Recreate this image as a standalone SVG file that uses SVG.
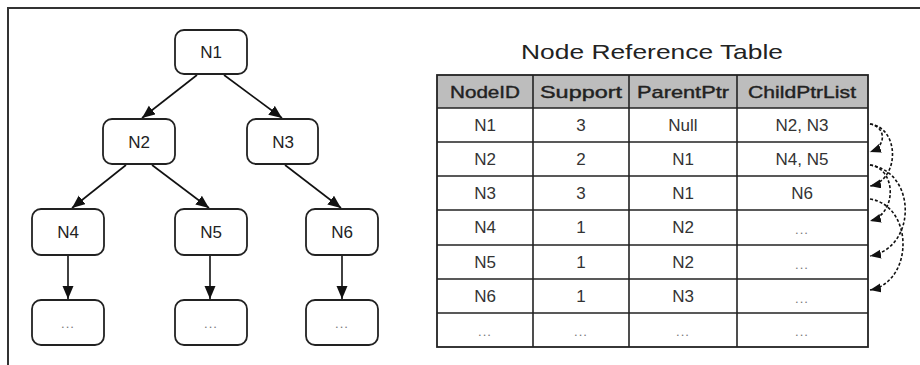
<svg xmlns="http://www.w3.org/2000/svg" width="920" height="365" viewBox="0 0 920 365">
<defs>
<style>
.frame{stroke:#333;stroke-width:2;fill:none}
.node rect{fill:#fff;stroke:#222;stroke-width:1.8}
.lbl{font-family:"Liberation Sans",Arial,sans-serif;font-size:17px;fill:#222;text-anchor:middle}
.dots{font-family:"Liberation Sans",Arial,sans-serif;font-size:13px;fill:#777;text-anchor:middle;letter-spacing:1px}
.edge{stroke:#111;stroke-width:1.6;fill:none;marker-end:url(#ah)}
.ref{stroke:#111;stroke-width:1.6;fill:none;stroke-dasharray:3 2;marker-end:url(#ah2)}
.cell{font-family:"Liberation Sans",Arial,sans-serif;font-size:17px;fill:#333;text-anchor:middle}
.hdr{font-family:"Liberation Sans",Arial,sans-serif;font-size:17px;fill:#222;text-anchor:middle;stroke:#222;stroke-width:0.4}
.tline{stroke:#222;stroke-width:1.6}
</style>
<marker id="ah" markerUnits="userSpaceOnUse" markerWidth="14" markerHeight="12" refX="13" refY="5.5" orient="auto"><path d="M0,0 L13,5.5 L0,11 z" fill="#111"/></marker>
<marker id="ah2" markerUnits="userSpaceOnUse" markerWidth="12" markerHeight="10" refX="11" refY="4.5" orient="auto"><path d="M0,0 L11,4.5 L0,9 z" fill="#111"/></marker>
</defs>
<rect width="920" height="365" fill="#fff"/>
<path class="frame" d="M8,365 L8,8 L920,8"/>

<g id="connectors">
<path class="edge" d="M197,75 L142,118"/>
<path class="edge" d="M224,75 L282,118"/>
<path class="edge" d="M126,165 L72,208"/>
<path class="edge" d="M152,165 L209,208"/>
<path class="edge" d="M285,165 L341,208"/>
<path class="edge" d="M68,256 L68,299"/>
<path class="edge" d="M210,256 L210,299"/>
<path class="edge" d="M342,256 L342,299"/>
<path class="ref" d="M870,124 C886,127 887,146 870,152"/>
<path class="ref" d="M870,124 C900,128 900,180 870,186"/>
<path class="ref" d="M870,165 C897,169 897,214 870,221"/>
<path class="ref" d="M870,165 C917,172 917,248 870,256"/>
<path class="ref" d="M870,199 C914,206 914,282 870,290"/>
</g>

<g id="N1" class="node"><rect x="175" y="30" width="72" height="44" rx="9"/><text class="lbl" x="211" y="58">N1</text></g>
<g id="N2" class="node"><rect x="103" y="119" width="72" height="45" rx="9"/><text class="lbl" x="139" y="148">N2</text></g>
<g id="N3" class="node"><rect x="247" y="119" width="71" height="45" rx="9"/><text class="lbl" x="283" y="148">N3</text></g>
<g id="N4" class="node"><rect x="32" y="209" width="72" height="46" rx="9"/><text class="lbl" x="68" y="238">N4</text></g>
<g id="N5" class="node"><rect x="175" y="209" width="72" height="46" rx="9"/><text class="lbl" x="211" y="238">N5</text></g>
<g id="N6" class="node"><rect x="306" y="209" width="72" height="46" rx="9"/><text class="lbl" x="342" y="238">N6</text></g>
<g id="N4c" class="node"><rect x="32" y="300" width="72" height="45" rx="9"/><text class="dots" x="68" y="328">...</text></g>
<g id="N5c" class="node"><rect x="175" y="300" width="72" height="45" rx="9"/><text class="dots" x="211" y="328">...</text></g>
<g id="N6c" class="node"><rect x="306" y="300" width="72" height="45" rx="9"/><text class="dots" x="342" y="328">...</text></g>

<g id="table">
<text x="652" y="59" font-family="'Liberation Sans',Arial,sans-serif" font-size="21" fill="#222" text-anchor="middle" textLength="262" lengthAdjust="spacingAndGlyphs">Node Reference Table</text>
<rect x="437" y="75" width="431" height="33" fill="#bdbdbd"/>
<rect x="437" y="75" width="431" height="272" fill="none" stroke="#222" stroke-width="1.8"/>
<line class="tline" x1="437" y1="108" x2="868" y2="108"/>
<line class="tline" x1="437" y1="142" x2="868" y2="142"/>
<line class="tline" x1="437" y1="176" x2="868" y2="176"/>
<line class="tline" x1="437" y1="210" x2="868" y2="210"/>
<line class="tline" x1="437" y1="245" x2="868" y2="245"/>
<line class="tline" x1="437" y1="279" x2="868" y2="279"/>
<line class="tline" x1="437" y1="313" x2="868" y2="313"/>
<line class="tline" x1="533" y1="75" x2="533" y2="347"/>
<line class="tline" x1="629" y1="75" x2="629" y2="347"/>
<line class="tline" x1="737" y1="75" x2="737" y2="347"/>
<text class="hdr" x="485" y="98" textLength="70" lengthAdjust="spacingAndGlyphs">NodeID</text>
<text class="hdr" x="581" y="98" textLength="82" lengthAdjust="spacingAndGlyphs">Support</text>
<text class="hdr" x="683" y="98" textLength="92" lengthAdjust="spacingAndGlyphs">ParentPtr</text>
<text class="hdr" x="802" y="98" textLength="108" lengthAdjust="spacingAndGlyphs">ChildPtrList</text>
<text class="cell" x="485" y="131">N1</text><text class="cell" x="581" y="131">3</text><text class="cell" x="683" y="131">Null</text><text class="cell" x="802" y="131">N2, N3</text>
<text class="cell" x="485" y="165">N2</text><text class="cell" x="581" y="165">2</text><text class="cell" x="683" y="165">N1</text><text class="cell" x="802" y="165">N4, N5</text>
<text class="cell" x="485" y="199">N3</text><text class="cell" x="581" y="199">3</text><text class="cell" x="683" y="199">N1</text><text class="cell" x="802" y="199">N6</text>
<text class="cell" x="485" y="233">N4</text><text class="cell" x="581" y="233">1</text><text class="cell" x="683" y="233">N2</text><text class="dots" x="802" y="234">...</text>
<text class="cell" x="485" y="268">N5</text><text class="cell" x="581" y="268">1</text><text class="cell" x="683" y="268">N2</text><text class="dots" x="802" y="269">...</text>
<text class="cell" x="485" y="302">N6</text><text class="cell" x="581" y="302">1</text><text class="cell" x="683" y="302">N3</text><text class="dots" x="802" y="303">...</text>
<text class="dots" x="485" y="336">...</text><text class="dots" x="581" y="336">...</text><text class="dots" x="683" y="336">...</text><text class="dots" x="802" y="336">...</text>
</g>
</svg>
